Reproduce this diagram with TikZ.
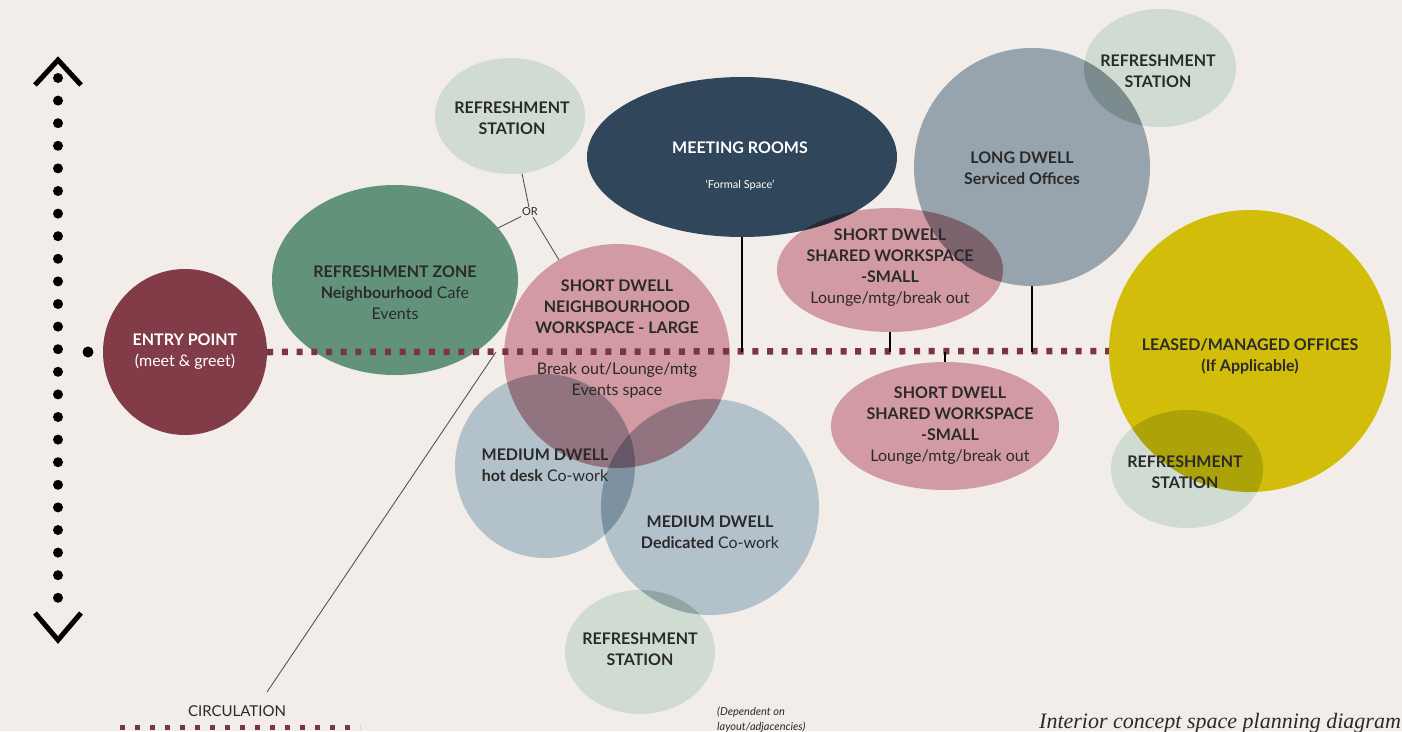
\documentclass[tikz,border=0pt]{standalone}
\usepackage{fontspec}
\setmainfont{Lato}
\newfontfamily\notefont{Liberation Serif}
\usetikzlibrary{shapes.geometric}
\definecolor{paper}{HTML}{F2EDE9}
\definecolor{ink}{HTML}{2A2A2A}
\definecolor{dotred}{HTML}{7B3443}
\definecolor{entryred}{HTML}{823C47}
\definecolor{zonegreen}{HTML}{62937A}
\definecolor{sage}{HTML}{D0DBD2}
\definecolor{meetblue}{HTML}{30465A}
\definecolor{rose}{HTML}{D29AA2}
\definecolor{mist}{HTML}{B2C1CA}
\definecolor{slate}{HTML}{97A3AD}
\definecolor{mustard}{HTML}{D2BE0A}
\tikzset{
bubble/.style={ellipse, inner sep=0pt, draw=none},
lbl/.style={align=center, text=ink, inner sep=0pt, font=\fontsize{16}{21}\selectfont},
dotline/.style={draw=dotred, line width=6.5pt, dash pattern=on 6pt off 8.7pt},
vdots/.style={draw=black, line width=10pt, line cap=round, dash pattern=on 0pt off 22.6pt},
chev/.style={draw=black, line width=5pt},
stem/.style={draw=black, line width=2.8pt},
leader/.style={draw=ink!80, line width=0.9pt},
}
\begin{document}
\begin{tikzpicture}[x=1pt, y=-1pt]
\fill[paper] (0,0) rectangle (1402,731);
\useasboundingbox (0,0) rectangle (1402,731);

\coordinate (up) at (58,60);
\coordinate (down) at (58,640);
\draw[vdots] (58,78) -- (58,620);
\draw[chev] ([xshift=-23pt,yshift=-25pt]up) -- (up) -- ([xshift=23pt,yshift=-25pt]up);
\draw[chev] ([xshift=-23pt,yshift=27pt]down) -- (down) -- ([xshift=23pt,yshift=27pt]down);
\node[circle, fill=black, inner sep=0pt, minimum size=11pt] (entrydot) at (88,352) {};

\begin{scope}[blend group=multiply]
\node[bubble, fill=sage, minimum width=150pt, minimum height=116pt] (rsa) at (510,116) {};
\node[bubble, fill=zonegreen, minimum width=246pt, minimum height=190pt] (zone) at (395,280) {};
\node[bubble, fill=entryred, minimum width=164pt, minimum height=166pt] (entry) at (185,352) {};
\node[bubble, fill=meetblue, minimum width=310pt, minimum height=160pt] (meet) at (742,157) {};
\node[bubble, fill=rose, minimum width=226pt, minimum height=124pt] (sda) at (890,270) {};
\node[bubble, fill=slate, minimum width=236pt, minimum height=238pt] (long) at (1032,167) {};
\node[bubble, fill=sage, minimum width=152pt, minimum height=118pt] (rsc) at (1160,68) {};
\node[bubble, fill=mist, minimum width=180pt, minimum height=184pt] (hot) at (545,466) {};
\node[bubble, fill=rose, minimum width=226pt, minimum height=224pt] (nbh) at (617,356) {};
\node[bubble, fill=mist, minimum width=218pt, minimum height=216pt] (ded) at (710,507) {};
\node[bubble, fill=sage, minimum width=150pt, minimum height=124pt] (rsb) at (640,652) {};
\node[bubble, fill=rose, minimum width=228pt, minimum height=128pt] (sdb) at (945,426) {};
\node[bubble, fill=sage, minimum width=152pt, minimum height=118pt] (rsd) at (1187,469) {};
\node[bubble, fill=mustard, minimum width=282pt, minimum height=282pt] (leased) at (1250,351) {};
\end{scope}

\draw[dotline] (entry.east) -- (leased.west);
\draw[stem] (meet.south) -- (meet.south |- entry.east);
\draw[stem] (sda.south) -- (sda.south |- entry.east);
\draw[stem] (sdb.north) -- (sdb.north |- entry.east);
\draw[stem] (long.south) -- (long.south |- entry.east);

\node[text=ink, inner sep=1pt, font=\fontsize{11}{12}\selectfont] (or) at (530,212) {OR};
\draw[leader] (rsa) -- (or);
\draw[leader] (or) -- (zone);
\draw[leader] (or) -- (nbh);

\node[text=ink, inner sep=0pt, font=\fontsize{15}{16}\selectfont] (circ) at (237,711) {CIRCULATION};
\coordinate (leadtop) at (496,352);
\coordinate (leadend) at (267,692);
\draw[leader] (leadtop) -- (leadend);
\coordinate (cl) at (120,727);
\coordinate (cr) at (360,727);
\draw[dotline, line width=5pt, dash pattern=on 5pt off 10pt] (cl) -- (cr);

\node[lbl, text=white] (entrytxt) at (185,352) {\textbf{ENTRY POINT}\\(meet \& greet)};
\node[lbl] (zonetxt) at (395,293) {\textbf{REFRESHMENT ZONE}\\\textbf{Neighbourhood} Cafe\\Events};
\node[lbl] (rsatxt) at (512,118) {\textbf{REFRESHMENT}\\\textbf{STATION}};
\node[lbl, text=white] (meettxt) at (740,166) {\textbf{MEETING ROOMS}\\[14pt]{\fontsize{11}{12}\selectfont `Formal Space'}};
\node[lbl] (nbhtxt) at (617,339) {\textbf{SHORT DWELL}\\\textbf{NEIGHBOURHOOD}\\\textbf{WORKSPACE - LARGE}\\[20pt]Break out/Lounge/mtg\\Events space};
\node[lbl] (sdatxt) at (890,268) {\textbf{SHORT DWELL}\\\textbf{SHARED WORKSPACE}\\\textbf{-SMALL}\\Lounge/mtg/break out};
\node[lbl] (sdbtxt) at (950,426) {\textbf{SHORT DWELL}\\\textbf{SHARED WORKSPACE}\\\textbf{-SMALL}\\Lounge/mtg/break out};
\node[lbl] (longtxt) at (1022,168) {\textbf{LONG DWELL}\\\textbf{Serviced Offices}};
\node[lbl] (rsctxt) at (1158,71) {\textbf{REFRESHMENT}\\\textbf{STATION}};
\node[lbl] (leasedtxt) at (1250,356) {\textbf{LEASED/MANAGED OFFICES}\\\textbf{(If Applicable)}};
\node[lbl] (rsdtxt) at (1185,472) {\textbf{REFRESHMENT}\\\textbf{STATION}};
\node[lbl] (hottxt) at (545,465) {\textbf{MEDIUM DWELL}\\\textbf{hot desk} Co-work};
\node[lbl] (dedtxt) at (710,532) {\textbf{MEDIUM DWELL}\\\textbf{Dedicated} Co-work};
\node[lbl] (rsbtxt) at (640,649) {\textbf{REFRESHMENT}\\\textbf{STATION}};
\node[text=ink, align=left, anchor=north west, inner sep=0pt, font=\fontsize{11}{15}\selectfont\itshape] (rsbnote) at (717,707) {(Dependent on\\layout/adjacencies)};

\node[text=ink, anchor=north west, inner sep=0pt, font=\notefont\itshape\fontsize{22}{24}\selectfont] (caption) at (1039,713) {Interior concept space planning diagram};
\end{tikzpicture}
\end{document}
